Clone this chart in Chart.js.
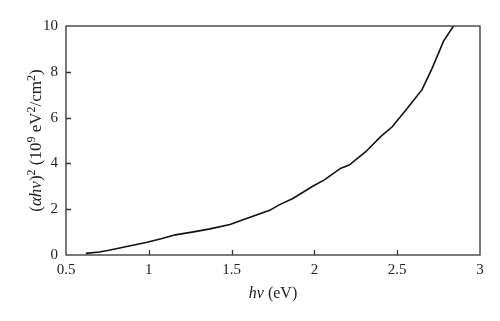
<!DOCTYPE html>
<html>
<head>
<meta charset="utf-8">
<script src="https://cdn.jsdelivr.net/npm/chart.js@4.4.1/dist/chart.umd.min.js"></script>
<style>
    html, body { margin: 0; padding: 0; background: #fff; }
    #wrap { width: 500px; height: 321px; }
</style>
</head>
<body>
<div id="wrap"><canvas id="tauc-chart"></canvas></div>
<script>
// photon energy (eV)
const photonEnergy = [0.62, 0.70, 0.76, 0.86, 0.99, 1.08, 1.16, 1.27, 1.37, 1.49, 1.59, 1.73, 1.79,
    1.87, 1.99, 2.06, 2.16, 2.21, 2.31, 2.40, 2.47, 2.56, 2.65, 2.71, 2.78, 2.84];
// (alpha h nu)^2 in 10^9 eV^2/cm^2
const absorption = [0.07, 0.13, 0.21, 0.36, 0.56, 0.72, 0.88, 1.01, 1.14, 1.33, 1.59, 1.95, 2.2,
    2.47, 3.0, 3.28, 3.79, 3.93, 4.51, 5.17, 5.6, 6.4, 7.22, 8.14, 9.34, 10.0];
const xTicks = [0.5, 1, 1.5, 2, 2.5, 3];
const yTicks = [0, 2, 4, 6, 8, 10];
// axis titles as [text, style] runs: i = italic, s = superscript, n = normal
const xTitle = [['hν', 'i'], [' (eV)', 'n']];
const yTitle = [['(', 'n'], ['αhν', 'i'], [')', 'n'], ['2', 's'], [' (10', 'n'], ['9', 's'],
    [' eV', 'n'], ['2', 's'], ['/cm', 'n'], ['2', 's'], [')', 'n']];

const serif = "'Liberation Serif', 'DejaVu Serif', serif";
const textColor = '#222';
const axisColor = '#333';

function runFont(style, size) {
    if (style === 'i') return 'italic ' + size + 'px ' + serif;
    if (style === 's') return Math.round(size * 0.68) + 'px ' + serif;
    return size + 'px ' + serif;
}

// draw a run of mixed-style text centred on (0, 0) of the current transform
function drawRuns(ctx, runs, size) {
    let total = 0;
    runs.forEach(([t, st]) => {
        ctx.font = runFont(st, size);
        total += ctx.measureText(t).width;
    });
    let x = -total / 2;
    runs.forEach(([t, st]) => {
        ctx.font = runFont(st, size);
        ctx.fillText(t, x, st === 's' ? -size * 0.38 : 0);
        x += ctx.measureText(t).width;
    });
}

// box round the plot, small inward ticks and the axis titles
const frame = {
    id: 'frame',
    afterDraw(chart) {
        const { ctx, chartArea: a, scales } = chart;
        ctx.save();
        ctx.strokeStyle = axisColor;
        ctx.lineWidth = 1.3;
        ctx.strokeRect(a.left, a.top, a.right - a.left, a.bottom - a.top);
        ctx.beginPath();
        xTicks.slice(1, -1).forEach((v) => {
            const px = Math.round(scales.x.getPixelForValue(v)) + 0.5;
            ctx.moveTo(px, a.bottom);
            ctx.lineTo(px, a.bottom - 5);
        });
        yTicks.slice(1, -1).forEach((v) => {
            const py = Math.round(scales.y.getPixelForValue(v)) + 0.5;
            ctx.moveTo(a.left, py);
            ctx.lineTo(a.left + 5, py);
        });
        ctx.stroke();

        ctx.fillStyle = textColor;
        ctx.textBaseline = 'alphabetic';
        ctx.textAlign = 'left';
        ctx.save();
        ctx.translate((a.left + a.right) / 2, a.bottom + 43);
        drawRuns(ctx, xTitle, 16);
        ctx.restore();
        ctx.save();
        ctx.translate(a.left - 25, (a.top + a.bottom) / 2);
        ctx.rotate(-Math.PI / 2);
        drawRuns(ctx, yTitle, 17);
        ctx.restore();
        ctx.restore();
    },
};

const ctx = document.getElementById('tauc-chart').getContext('2d');
// eslint-disable-next-line no-undef
new Chart(ctx, {
    type: 'line',
    data: {
        datasets: [
            {
                data: photonEnergy.map((x, i) => ({ x, y: absorption[i] })),
                borderColor: '#111',
                borderWidth: 1.6,
                tension: 0,
                pointRadius: 0,
                fill: false,
            },
        ],
    },
    options: {
        responsive: true,
        maintainAspectRatio: false,
        animation: false,
        layout: { padding: { left: 0, right: 20, top: 26, bottom: 8 } },
        scales: {
            x: {
                type: 'linear',
                min: 0.5,
                max: 3,
                afterBuildTicks: (s) => { s.ticks = xTicks.map((v) => ({ value: v })); },
                afterFit: (s) => { s.height = 58; },
                grid: { display: false, drawTicks: false },
                border: { display: false },
                ticks: {
                    padding: 6,
                    color: textColor,
                    font: { family: serif, size: 15 },
                    callback: (v) => String(v),
                },
            },
            y: {
                min: 0,
                max: 10,
                afterBuildTicks: (s) => { s.ticks = yTicks.map((v) => ({ value: v })); },
                afterFit: (s) => { s.width = 66; },
                grid: { display: false, drawTicks: false },
                border: { display: false },
                ticks: {
                    padding: 8,
                    color: textColor,
                    font: { family: serif, size: 15 },
                },
            },
        },
        plugins: {
            legend: { display: false },
            tooltip: { enabled: false },
        },
    },
    plugins: [frame],
});
</script>
</body>
</html>
